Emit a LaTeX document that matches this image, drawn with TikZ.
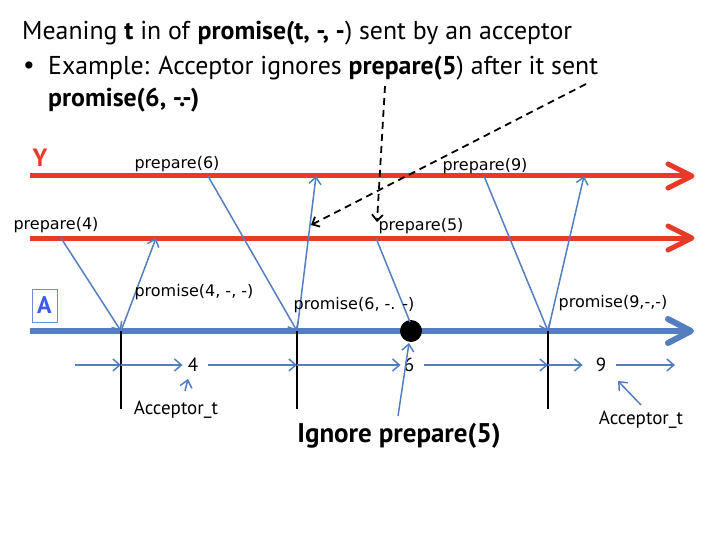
\documentclass[tikz,border=0pt]{standalone}
\usepackage{fontspec}
\setmainfont{PT Sans}
\newfontfamily\lblfont{DejaVu Sans}
\usetikzlibrary{arrows.meta}
\definecolor{msgblue}{RGB}{84,126,190}
\definecolor{linered}{RGB}{232,58,40}
\definecolor{letterblue}{RGB}{60,92,228}
\definecolor{boxblue}{RGB}{110,140,215}
\begin{document}
\begin{tikzpicture}[x=1pt,y=-1pt,
  msg/.style={draw=msgblue, line width=1.5pt,
    -{Straight Barb[length=7pt,width=12pt,line width=1.5pt]}},
  bare/.style={draw=msgblue, line width=1.5pt},
  lbl/.style={font=\lblfont\fontsize{16}{18}\selectfont, inner sep=0pt},
  num/.style={font=\fontsize{19}{22}\selectfont, inner sep=1pt},
  note/.style={font=\fontsize{19}{22}\selectfont, inner sep=0pt},
  pointer/.style={draw=black, line width=1.8pt, dash pattern=on 7pt off 5pt,
    -{Straight Barb[length=6pt,width=11pt,line width=1.8pt]}},
  tick/.style={draw=black, line width=1.8pt},
  title/.style={font=\fontsize{25.8}{30}\selectfont, anchor=west, inner sep=0pt}]
\useasboundingbox (0,0) rectangle (720,540);

% heading
\node[title] (h1) at (22,33) {Meaning \textbf{t} in of \textbf{promise(t, -, -}) sent by an acceptor};
\node[title] (hb) at (23,68) {•};
\node[title] (h2) at (48,68) {Example: Acceptor ignores \textbf{prepare(5}) after it sent};
\node[title] (h3) at (48,100) {\textbf{promise(6, -.-)}};

% process time lines
\coordinate (yL) at (30,176);  \coordinate (yR) at (690,176);
\coordinate (mL) at (30,238);  \coordinate (mR) at (690,238);
\coordinate (aL) at (30,331);  \coordinate (aR) at (688,331);
\draw[linered, line width=5pt] (yL) -- (yR);
\draw[linered, line width=5pt] (mL) -- (mR);
\draw[linered, line width=5pt, line cap=round, line join=round]
  ([shift={(-22,-12)}]yR) -- ([shift={(2,0)}]yR) -- ([shift={(-22,12)}]yR);
\draw[linered, line width=5pt, line cap=round, line join=round]
  ([shift={(-22,-12)}]mR) -- ([shift={(2,0)}]mR) -- ([shift={(-22,12)}]mR);
\draw[msgblue, line width=6pt] (aL) -- (aR);
\draw[msgblue, line width=6pt, line cap=round, line join=round]
  ([shift={(-20,-12)}]aR) -- ([shift={(3,0)}]aR) -- ([shift={(-20,12)}]aR);

\node[text=linered, font=\bfseries\fontsize{25}{28}\selectfont, inner sep=0pt] (ylab) at (40,158) {Y};
\node[draw=boxblue, line width=0.8pt, text=letterblue, font=\bfseries\fontsize{24}{26}\selectfont,
  minimum width=25pt, minimum height=33pt, inner sep=0pt] (alab) at (44.5,305.5) {A};

% acceptor ticks
\coordinate (t1) at (121,331); \coordinate (t1b) at (121,409);
\coordinate (t2) at (297,331); \coordinate (t2b) at (297,409);
\coordinate (t3) at (548,331); \coordinate (t3b) at (548,409);
\draw[tick] (t1) -- (t1b);
\draw[tick] (t2) -- (t2b);
\draw[tick] (t3) -- (t3b);

% ignored prepare meets this point
\fill[black] (411,331) circle (11pt);
\coordinate (dot) at (410,322);

% messages
\coordinate (p4) at (61,238);  \coordinate (r4) at (156,238);
\coordinate (p6) at (208,176); \coordinate (r6) at (316,176);
\coordinate (p5) at (376,238);
\coordinate (p9) at (484,176); \coordinate (r9) at (584,176);
\draw[msg] (p4) -- (t1);
\draw[msg] (t1) -- (r4);
\draw[msg] (p6) -- (t2);
\draw[msg] (t2) -- (r6);
\draw[bare] (p5) -- (dot);
\draw[msg] (p9) -- (t3);
\draw[msg] (t3) -- (r9);

\node[lbl] (lp4) at (56,225) {prepare(4)};
\node[lbl] (lp6) at (177,164) {prepare(6)};
\node[lbl] (lr4) at (194,292) {promise(4, -, -)};
\node[lbl] (lr6) at (354,305) {promise(6, -. -)};
\node[lbl] (lp9) at (485,166) {prepare(9)};
\node[lbl] (lp5) at (421,226) {prepare(5)};
\node[lbl] (lr9) at (613,303) {promise(9,-,-)};

% acceptor_t along the time line
\coordinate (s0) at (75,365);
\coordinate (s1) at (121,365);
\coordinate (s2) at (297,365);
\coordinate (s3) at (548,365);
\coordinate (sE) at (675,365);
\node[num] (n4) at (193,365) {4};
\node[num] (n6) at (409,365) {6};
\node[num] (n9) at (601,365) {9};
\draw[msg] (s0) -- (s1);
\draw[msg] (s1) -- ([xshift=-4pt]n4.west);
\draw[msg] ([xshift=9pt]n4.east) -- (s2);
\draw[msg] (s2) -- ([xshift=-2pt]n6.west);
\draw[msg] ([xshift=9pt]n6.east) -- (s3);
\draw[msg] (s3) -- ([xshift=-12pt]n9.west);
\draw[msg] ([xshift=9pt]n9.east) -- (sE);

\node[note] (at1) at (176,410) {Acceptor\_t};
\node[note] (at2) at (641,420) {Acceptor\_t};
\coordinate (a1s) at (185,391); \coordinate (a1e) at (188,379);
\coordinate (a2s) at (641,405); \coordinate (a2e) at (618,381);
\draw[msg] (a1s) -- (a1e);
\draw[msg] (a2s) -- (a2e);

\node[font=\bfseries\fontsize{27}{30}\selectfont, inner sep=0pt] (ign) at (399,436) {Ignore prepare(5)};
\coordinate (igs) at (398,416); \coordinate (ige) at (409,343);
\draw[msg] (igs) -- (ige);

% pointers from the heading
\coordinate (d1s) at (385,86);  \coordinate (d1e) at (377,222);
\coordinate (d2s) at (586,84);  \coordinate (d2e) at (311,225);
\draw[pointer] (d1s) -- (d1e);
\draw[pointer] (d2s) -- (d2e);
\end{tikzpicture}
\end{document}
